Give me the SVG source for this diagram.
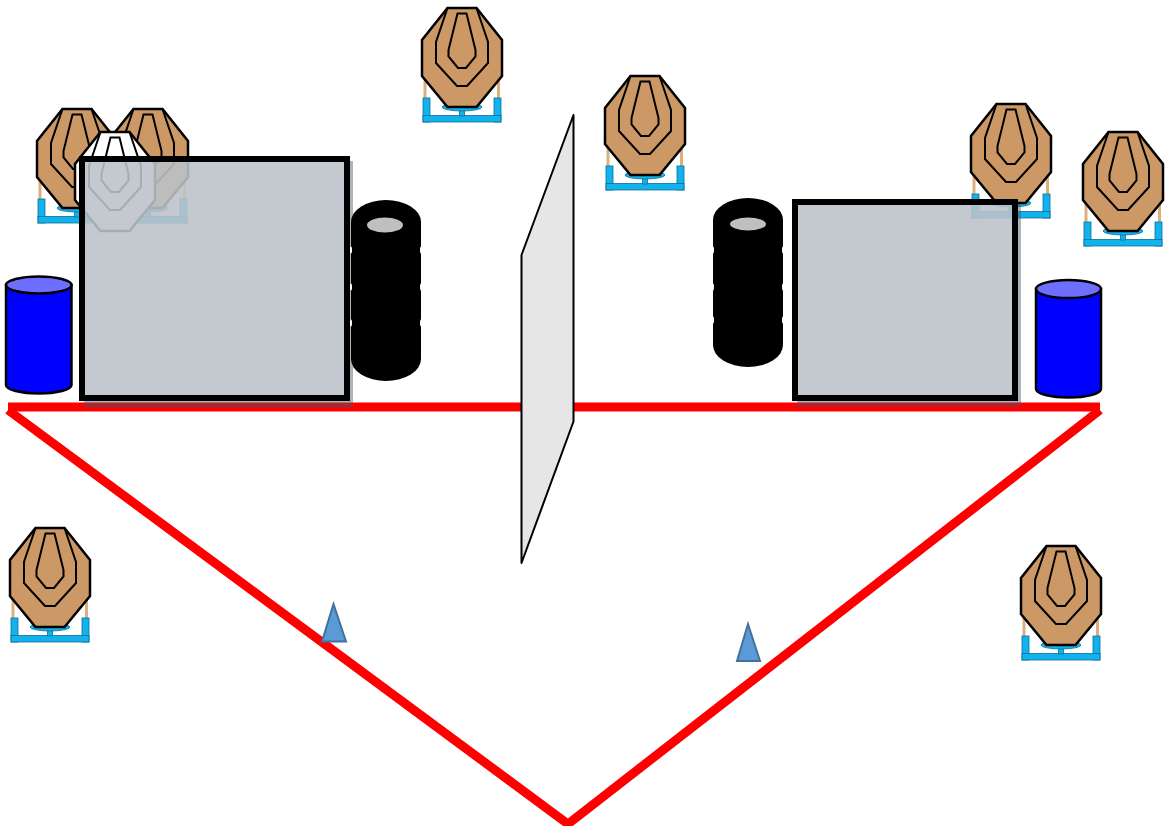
<svg xmlns="http://www.w3.org/2000/svg" width="1166" height="826" viewBox="0 0 1166 826">
  <style>
    .oct{fill:#CC9966;stroke:#000;stroke-width:2.5}
    .octw{fill:#FFFFFF;stroke:#000;stroke-width:2.5}
    .ring{fill:none;stroke:#000;stroke-width:2}
    .leg{stroke:#DDAE7E;stroke-width:3}
    .cy{fill:#12B2EC;stroke:#0A6E99;stroke-width:0.8}
    .red{fill:none;stroke:#FF0000;stroke-width:9}
    .barrel{fill:#0000FF;stroke:#000;stroke-width:2.5}
    .btop{fill:#6E6EFF;stroke:#000;stroke-width:2.5}
    .box{fill:#C9CED5;fill-opacity:0.8;stroke:#000;stroke-width:6}
    .shadow{fill:#4A5468;fill-opacity:0.45}
    .cone{fill:#5B9BD5;stroke:#41719C;stroke-width:2}
    .tire{fill:#000}
    .hole{fill:#BFBFBF}
    .notch{fill:#FFFFFF}
    .wall{fill:#E6E6E6;stroke:#000;stroke-width:2;stroke-linejoin:round}
  </style>
  <defs>
    <!-- steel target on a stand, local origin at top-left of the plate -->
    <g id="tgt">
      <line class="leg" x1="3" y1="66" x2="3" y2="91"/>
      <line class="leg" x1="76.5" y1="66" x2="76.5" y2="91"/>
      <rect class="cy" x="1" y="90" width="7" height="24"/>
      <rect class="cy" x="72" y="90" width="7" height="24"/>
      <rect class="cy" x="1" y="107.5" width="78" height="6.5"/>
      <rect class="cy" x="37.5" y="100" width="5" height="8"/>
      <ellipse class="cy" cx="40" cy="99" rx="20" ry="4"/>
      <path class="oct" d="M25.5,0 H54.5 L80,32 V68 L54.5,99 H25.5 L0,68 V32 Z"/>
      <path class="ring" d="M25.5,0 L14,34 V55 L35,78 H45 L66,55 V34 L54.5,0"/>
      <path class="ring" d="M35.5,5.5 H44.5 L53.5,42 V48.5 L44,60 H36 L26.5,48.5 V42 Z"/>
    </g>
    <!-- no-shoot plate -->
    <g id="tgtw">
      <path class="octw" d="M25.5,0 H54.5 L80,32 V68 L54.5,99 H25.5 L0,68 V32 Z"/>
      <path class="ring" d="M25.5,0 L14,34 V55 L35,78 H45 L66,55 V34 L54.5,0"/>
      <path class="ring" d="M35.5,5.5 H44.5 L53.5,42 V48.5 L44,60 H36 L26.5,48.5 V42 Z"/>
    </g>
  </defs>

  <!-- targets -->
  <g id="targets">
    <use href="#tgt" x="422" y="8"/>
    <use href="#tgt" x="605" y="76"/>
    <use href="#tgt" x="971" y="104"/>
    <use href="#tgt" x="1083" y="132"/>
    <use href="#tgt" x="10" y="528"/>
    <use href="#tgt" x="1021" y="546"/>
    <use href="#tgt" x="108" y="109"/>
    <use href="#tgt" x="37" y="109"/>
    <use href="#tgtw" x="75" y="132"/>
  </g>

  <!-- fault lines -->
  <g id="fault-lines">
    <line class="red" x1="8" y1="407" x2="1100" y2="407"/>
    <polyline class="red" points="8,410 568,824 1100,410"/>
  </g>

  <!-- centre wall -->
  <g id="wall">
    <polygon class="wall" points="573.5,115 573.5,421.5 521.5,563 521.5,255"/>
  </g>

  <!-- cover boxes -->
  <g id="box-left">
    <rect class="shadow" x="84" y="161" width="269" height="247"/>
    <rect class="box" x="82" y="159" width="265" height="239"/>
  </g>
  <g id="box-right">
    <rect class="shadow" x="797" y="204" width="224" height="203"/>
    <rect class="box" x="795" y="202" width="220" height="196"/>
  </g>

  <!-- tire stacks -->
  <g id="tires-left">
    <rect class="tire" x="351" y="222" width="70" height="137"/>
    <ellipse class="tire" cx="386" cy="222" rx="35" ry="22"/>
    <ellipse class="tire" cx="386" cy="359" rx="35" ry="22"/>
    <ellipse class="hole" cx="385" cy="225" rx="18" ry="7.5"/>
    <ellipse class="notch" cx="351" cy="250" rx="1" ry="3.5"/>
    <ellipse class="notch" cx="351" cy="287" rx="1" ry="3.5"/>
    <ellipse class="notch" cx="351" cy="323" rx="1" ry="3.5"/>
    <ellipse class="notch" cx="421" cy="250" rx="1" ry="3.5"/>
    <ellipse class="notch" cx="421" cy="287" rx="1" ry="3.5"/>
    <ellipse class="notch" cx="421" cy="323" rx="1" ry="3.5"/>
  </g>
  <g id="tires-right">
    <rect class="tire" x="713" y="220" width="70" height="125"/>
    <ellipse class="tire" cx="748" cy="220" rx="35" ry="22"/>
    <ellipse class="tire" cx="748" cy="345" rx="35" ry="22"/>
    <ellipse class="hole" cx="748" cy="224" rx="18" ry="6.5"/>
    <ellipse class="notch" cx="713" cy="250" rx="1" ry="3.5"/>
    <ellipse class="notch" cx="713" cy="287" rx="1" ry="3.5"/>
    <ellipse class="notch" cx="713" cy="320" rx="1" ry="3.5"/>
    <ellipse class="notch" cx="783" cy="250" rx="1" ry="3.5"/>
    <ellipse class="notch" cx="783" cy="287" rx="1" ry="3.5"/>
    <ellipse class="notch" cx="783" cy="320" rx="1" ry="3.5"/>
  </g>

  <!-- barrels -->
  <g id="barrel-left">
    <path class="barrel" d="M6,285 V385 A32.75,8.5 0 0 0 71.5,385 V285 Z"/>
    <ellipse class="btop" cx="38.75" cy="285" rx="32.75" ry="8.5"/>
  </g>
  <g id="barrel-right">
    <path class="barrel" d="M1036,289 V389 A32.5,8.5 0 0 0 1101,389 V289 Z"/>
    <ellipse class="btop" cx="1068.5" cy="289" rx="32.5" ry="9"/>
  </g>

  <!-- cones -->
  <g id="cone-left">
    <polygon class="cone" points="333.5,604 322,641.5 346,641.5"/>
  </g>
  <g id="cone-right">
    <polygon class="cone" points="748,624 737,661 760,661"/>
  </g>
</svg>
